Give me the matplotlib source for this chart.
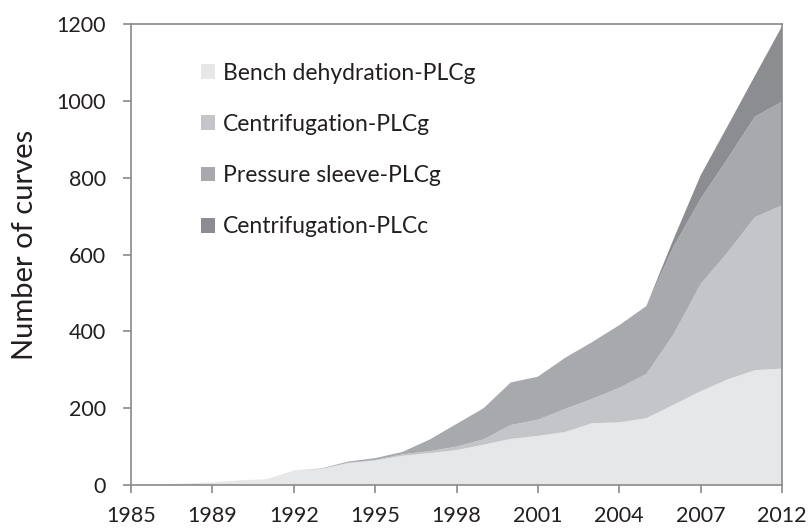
import matplotlib
matplotlib.use("Agg")
import matplotlib.pyplot as plt
import numpy as np

plt.rcParams["font.family"] = ["Lato", "DejaVu Sans"]

# 25 categories on the x axis, every third one labelled
years = ["1985", "1986", "1988", "1989", "1990", "1991", "1992", "1993", "1994",
         "1995", "1996", "1997", "1998", "1999", "2000", "2001", "2002", "2003",
         "2004", "2005", "2006", "2007", "2009", "2011", "2012"]
tick_labels = ["1985", "1989", "1992", "1995", "1998", "2001", "2004", "2007", "2012"]

series_names = ["Bench dehydration-PLCg", "Centrifugation-PLCg",
                "Pressure sleeve-PLCg", "Centrifugation-PLCc"]
bench_plcg = [0, 2, 4, 7, 12, 15, 38, 42, 57, 64, 76, 83, 91, 105, 120, 128,
              138, 161, 163, 174, 209, 244, 275, 299, 303]
centrif_plcg = [0, 0, 0, 0, 0, 0, 0, 0, 1, 1, 4, 5, 9, 14, 36, 42, 60, 63,
                90, 115, 183, 279, 331, 398, 425]
pressure_plcg = [0, 0, 0, 0, 0, 0, 0, 1, 3, 5, 6, 30, 59, 81, 111, 112, 133,
                 148, 163, 177, 228, 222, 244, 262, 270]
centrif_plcc = [0, 0, 0, 0, 0, 0, 0, 0, 0, 0, 0, 0, 0, 0, 0, 0, 0, 0, 0, 0,
                20, 61, 85, 106, 196]

colors = ["#e6e7e9", "#c4c5c8", "#a8a9ac", "#8c8d91"]
text_color = "#231f20"

fig = plt.figure(figsize=(8.09, 5.28), dpi=100)
ax = fig.add_axes([0.162, 0.0814, 0.8046, 0.8731])

x = np.arange(len(years))
ax.stackplot(x, bench_plcg, centrif_plcg, pressure_plcg, centrif_plcc,
             colors=colors, labels=series_names, linewidth=0)

ax.set_xlim(0, len(years) - 1)
ax.set_ylim(0, 1200)
ax.set_xticks(x[::3])
ax.set_xticklabels(tick_labels)
ax.set_yticks(np.arange(0, 1201, 200))

for side in ("left", "bottom", "top", "right"):
    ax.spines[side].set_color("#8a8a8a")
    ax.spines[side].set_linewidth(1.2)
ax.tick_params(axis="both", direction="out", length=6, width=1.2,
               color="#8a8a8a", labelsize=15.5, labelcolor=text_color)
ax.tick_params(axis="x", pad=9)
ax.tick_params(axis="y", pad=12)

ax.set_ylabel("Number of curves", fontsize=21, color=text_color)
ax.yaxis.set_label_coords(-0.143, 0.52)

ax.legend(loc="upper left", bbox_to_anchor=(0.075, 0.961), frameon=False,
          fontsize=16.5, labelspacing=1.32, handlelength=0.65, handleheight=0.62,
          handletextpad=0.32, labelcolor=text_color)

fig.savefig("out.png", dpi=100)
